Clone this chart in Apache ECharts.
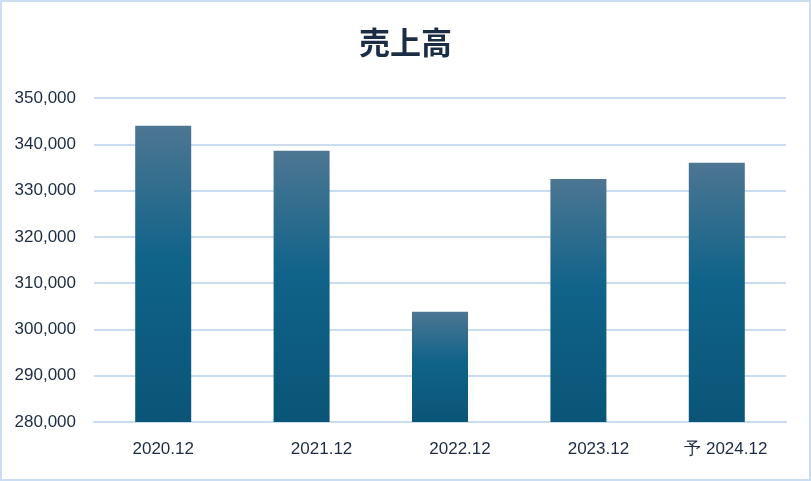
<!DOCTYPE html>
<html>
<head>
<meta charset="utf-8">
<script src="https://cdn.jsdelivr.net/npm/echarts@6/dist/echarts.min.js"></script>
<style>
  html, body { margin: 0; padding: 0; background: #fff; }
  #main { width: 811px; height: 481px; }
</style>
</head>
<body>
<div id="main"></div>
<script>
  // 売上高 data
  var categories = ['2020.12', '2021.12', '2022.12', '2023.12', '予 2024.12'];
  var sales = [344000, 338600, 303800, 332500, 336000];
  var yTicks = [280000, 350000, 10000]; // min, max, step

  // the x labels in the original sit a little off the bar centres
  var labelPad = [[0, 0, 8, 0], [0, 0, 0, 40], [0, 0, 0, 40], [0, 0, 0, 40], [0, 0, 0, 18]];

  var myChart = echarts.init(document.getElementById('main'));
  var txt = '#1d2c40';
  var option = {
    backgroundColor: '#fff',
    animation: false,
    title: {
      text: '売上高',
      left: 'center',
      top: 22,
      textStyle: {
        fontFamily: 'Noto Sans CJK JP',
        fontSize: 31,
        fontWeight: 'bold',
        color: '#1b2d45'
      }
    },
    graphic: [{
      type: 'rect',
      shape: { x: 1, y: 1, width: 809, height: 479 },
      style: { fill: 'none', stroke: '#cbddf1', lineWidth: 2 },
      silent: true
    }],
    grid: {
      left: 94,
      right: 25,
      top: 98,
      bottom: 59
    },
    xAxis: {
      type: 'category',
      data: categories.map(function (c, i) {
        return { value: c, textStyle: { padding: labelPad[i] } };
      }),
      axisLine: { lineStyle: { color: '#c9dcf0', width: 2 } },
      axisTick: { show: false },
      axisLabel: {
        color: txt,
        fontFamily: 'Liberation Sans',
        fontSize: 17,
        margin: 19
      }
    },
    yAxis: {
      type: 'value',
      min: yTicks[0],
      max: yTicks[1],
      interval: yTicks[2],
      axisLine: { show: false },
      axisTick: { show: false },
      splitLine: { lineStyle: { color: '#c9dcf0', width: 2 } },
      axisLabel: {
        color: txt,
        fontFamily: 'Liberation Sans',
        fontSize: 17,
        margin: 18,
        formatter: function (v) {
          return v.toLocaleString('en-US');
        }
      }
    },
    series: [{
      name: '売上高',
      type: 'bar',
      data: sales,
      barWidth: 56,
      itemStyle: {
        color: new echarts.graphic.LinearGradient(0, 0, 0, 1, [
          { offset: 0, color: '#4d7692' },
          { offset: 0.45, color: '#106389' },
          { offset: 1, color: '#0a5577' }
        ])
      }
    }]
  };
  myChart.setOption(option);
</script>
</body>
</html>
